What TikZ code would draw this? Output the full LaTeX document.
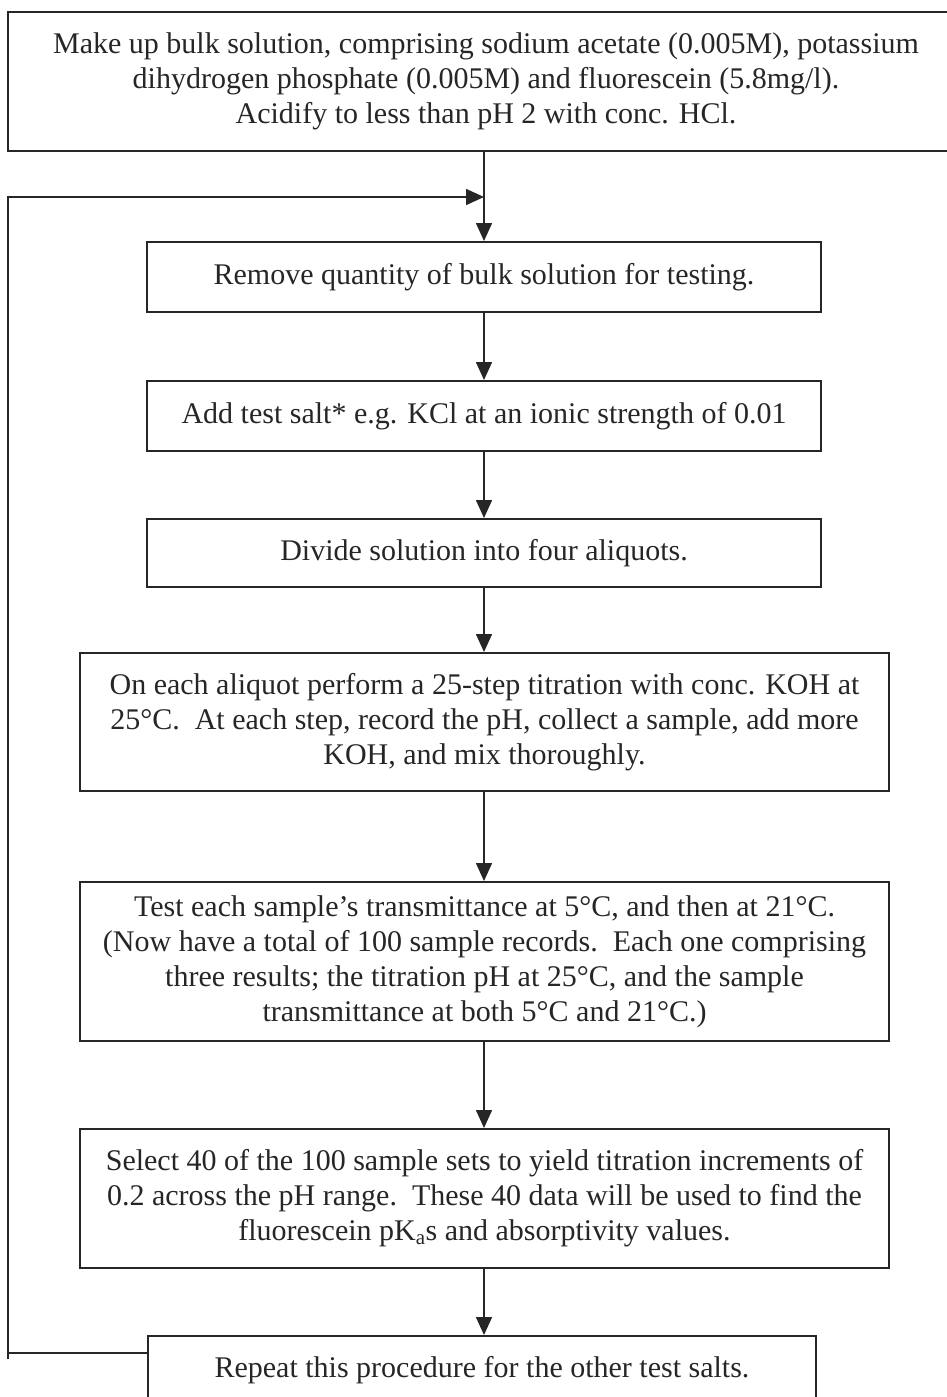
\documentclass[tikz,border=0pt]{standalone}
\usepackage{fontspec}
\setmainfont{Liberation Serif}
\usetikzlibrary{arrows.meta,calc}
\definecolor{ink}{HTML}{262626}
\begin{document}
\begin{tikzpicture}[x=1pt,y=-1pt,
  box/.style={draw=ink, text=ink, line width=2pt, align=center,
    font=\fontsize{30}{35}\selectfont, inner sep=0pt},
  arr/.style={draw=ink, line width=1.6pt, -{Triangle[length=18pt,width=16pt]}},
  lnk/.style={draw=ink, line width=1.6pt}]
\useasboundingbox (0,0) rectangle (947,1397);
\clip (0,0) rectangle (947,1397);

\node[box, minimum width=956, minimum height=138] (top) at (486,81.5)
  {Make up bulk solution, comprising sodium acetate (0.005M), potassium\\
   dihydrogen phosphate (0.005M) and fluorescein (5.8mg/l).\\
   Acidify to less than pH 2 with conc. HCl.};

\node[box, minimum width=674, minimum height=70] (remove) at (484,277)
  {Remove quantity of bulk solution for testing.};

\node[box, minimum width=674, minimum height=70] (salt) at (484,416)
  {Add test salt* e.g. KCl at an ionic strength of 0.01};

\node[box, minimum width=674, minimum height=68] (divide) at (484,553)
  {Divide solution into four aliquots.};

\node[box, minimum width=809, minimum height=138] (titr) at (484.5,722)
  {On each aliquot perform a 25-step titration with conc. KOH at\\
   25°C.\ \ At each step, record the pH, collect a sample, add more\\
   KOH, and mix thoroughly.};

\node[box, minimum width=809, minimum height=159] (test) at (484.5,961.5)
  {Test each sample’s transmittance at 5°C, and then at 21°C.\\
   (Now have a total of 100 sample records.\ \ Each one comprising\\
   three results; the titration pH at 25°C, and the sample\\
   transmittance at both 5°C and 21°C.)};

\node[box, minimum width=809, minimum height=139] (select) at (484.5,1198.5)
  {Select 40 of the 100 sample sets to yield titration increments of\\
   0.2 across the pH range.\ \ These 40 data will be used to find the\\
   fluorescein pK\textsubscript{a}s and absorptivity values.};

\node[box, anchor=north, minimum width=668, text height=41pt, text depth=60pt] (repeat) at (482,1335)
  {Repeat this procedure for the other test salts.};

% connectors
\coordinate (join) at (484,197);
\draw[lnk] (remove.north |- top.south) -- (join);
\draw[arr] (join) -- (remove.north);
\draw[arr] (remove.south) -- (salt.north);
\draw[arr] (salt.south) -- (divide.north);
\draw[arr] (divide.south) -- (titr.north -| divide.south);
\draw[arr] (titr.south -| divide.south) -- (test.north -| divide.south);
\draw[arr] (test.south -| divide.south) -- (select.north -| divide.south);
\draw[arr] (select.south -| divide.south) -- (repeat.north -| divide.south);

% loop back
\path (repeat.north west) ++(0,18) coordinate (lp);
\coordinate (lpc) at (8,197);
\coordinate (lpend) at (8,1359);
\draw[lnk] (lp) -- (lp -| lpc);
\draw[arr] (lpend) -- (lpc) -- (join);
\end{tikzpicture}
\end{document}
